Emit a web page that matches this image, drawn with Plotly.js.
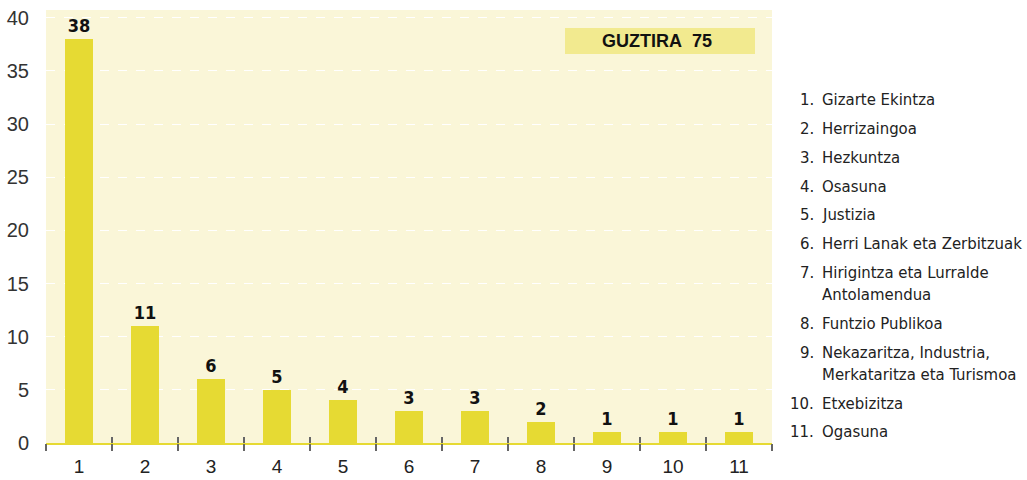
<!DOCTYPE html>
<html><head><meta charset="utf-8">
<script src="https://cdn.plot.ly/plotly-3.0.1.min.js"></script>
<style>html,body{margin:0;padding:0;background:#fff}#chart{width:1027px;height:480px}</style>
</head><body><div id="chart"></div>
<script>
const categories = ['1','2','3','4','5','6','7','8','9','10','11'];
const values = [38, 11, 6, 5, 4, 3, 3, 2, 1, 1, 1];
const legendNumbers = ['1.','2.','3.','4.','5.','6.','7.','8.','9.','10.','11.'];
const legendLabels = ['Gizarte Ekintza','Herrizaingoa','Hezkuntza','Osasuna','Justizia',
  'Herri Lanak eta Zerbitzuak','Hirigintza eta Lurralde<br>Antolamendua','Funtzio Publikoa',
  'Nekazaritza, Industria,<br>Merkataritza eta Turismoa','Etxebizitza','Ogasuna'];
const totalLabel = 'GUZTIRA  75';
const yTicks = [0,5,10,15,20,25,30,35,40];

const W = 1027, H = 480, L = 46, R = 772, T = 10, B = 443;
const px = x => (x - L) / (R - L);
const py = y => (B - y) / (B - T);
const FONT = 'DejaVu Sans Condensed, Liberation Sans Narrow, sans-serif';
const BAR = '#e6da33';

const xNum = categories.map((c, i) => i + 1);
const bounds = [];
for (let i = 0; i <= categories.length; i++) bounds.push(i + 0.5);

const trace = {
  type: 'bar', x: xNum, y: values,
  marker: {color: BAR}, width: 0.41,
  text: values.map(String), textposition: 'outside', cliponaxis: false,
  textfont: {family: FONT, size: 18, color: '#111', weight: 'bold'},
  hoverinfo: 'none'
};
const t2 = {type:'scatter', x:[0.5], y:[0], xaxis:'x2', mode:'markers', marker:{opacity:0}, hoverinfo:'none', showlegend:false};
const t3 = {type:'scatter', x:[0.5], y:[0], xaxis:'x3', mode:'markers', marker:{opacity:0}, hoverinfo:'none', showlegend:false};

const annotations = [];
let yy = 100;
legendLabels.forEach((lab, i) => {
  annotations.push({xref:'paper', yref:'paper', x: px(816), y: py(yy), xanchor:'right', yanchor:'middle',
    text: legendNumbers[i], showarrow:false, font:{family:FONT, size:16.6, color:'#222'}});
  const lines = lab.split('<br>');
  lines.forEach((ln, j) => {
    annotations.push({xref:'paper', yref:'paper', x: px(820), y: py(yy + j * 22.5), xanchor:'left', yanchor:'middle',
      text: ln, showarrow:false, font:{family:FONT, size:16.6, color:'#222'}});
  });
  yy += 28.7 + (lines.length - 1) * 22.5;
});
annotations.push({xref:'paper', yref:'paper', x: px(657), y: py(41), xanchor:'center', yanchor:'middle',
  text: '<b>' + totalLabel.replace(/ /g,'&nbsp;') + '</b>', showarrow:false,
  font:{family:'Liberation Sans, Arial, sans-serif', size:18, color:'#111'}});

const layout = {
  width: W, height: H,
  margin: {l: L, r: W - R, t: T, b: H - B, pad: 0},
  paper_bgcolor: '#ffffff', plot_bgcolor: '#faf6d8',
  showlegend: false, bargap: 0,
  xaxis: {range: [0.5, 11.5], tickvals: xNum, ticktext: categories, ticks: 'outside', ticklen: 5,
    tickcolor: 'rgba(0,0,0,0)', showgrid: false, zeroline: false, showline: true, linecolor: BAR, linewidth: 2,
    tickfont: {family: 'Liberation Sans, Arial, sans-serif', size: 19, color: '#222'}, fixedrange: true},
  xaxis2: {overlaying: 'x', side: 'bottom', anchor: 'y', range: [0.5, 11.5], tickvals: bounds, ticktext: bounds.map(() => ''),
    ticks: 'outside', ticklen: 7, tickwidth: 2, tickcolor: '#666', showgrid: false, zeroline: false, showline: false},
  xaxis3: {overlaying: 'x', side: 'bottom', anchor: 'y', range: [0.5, 11.5], tickvals: bounds, ticktext: bounds.map(() => ''),
    ticks: 'inside', ticklen: 6, tickwidth: 2, tickcolor: '#666', showgrid: false, zeroline: false, showline: false},
  yaxis: {range: [0, 40.73], tickvals: yTicks, ticktext: yTicks.map(String), ticks: 'outside', ticklen: 12,
    tickcolor: 'rgba(0,0,0,0)', showgrid: true, gridcolor: '#ffffff', griddash: 'dash', gridwidth: 1,
    zeroline: false, showline: false, tickfont: {family: 'Liberation Sans, Arial, sans-serif', size: 20, color: '#333'}},
  shapes: [{type: 'rect', xref: 'paper', yref: 'paper', x0: px(565), x1: px(755), y0: py(54), y1: py(28),
    fillcolor: '#f2ea8f', line: {width: 0}, layer: 'below'}],
  annotations: annotations
};
Plotly.newPlot('chart', [trace, t2, t3], layout, {displayModeBar: false, staticPlot: true});
</script></body></html>
